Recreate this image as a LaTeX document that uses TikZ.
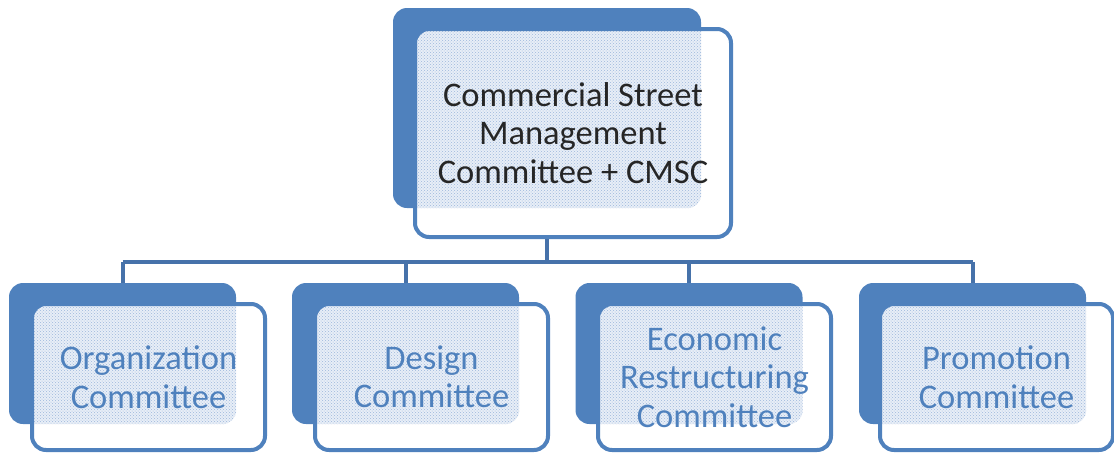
\documentclass[tikz,border=0pt]{standalone}
\usepackage{fontspec}
\setmainfont{Carlito}
\usetikzlibrary{patterns}
\definecolor{boxblue}{HTML}{4F81BD}
\definecolor{lineblue}{HTML}{4672AA}
\definecolor{dotblue}{HTML}{9DB8DC}
\definecolor{paleblue}{HTML}{E8EEF7}
\definecolor{textdark}{HTML}{262626}
\begin{document}
\begin{tikzpicture}[x=1pt, y=-1pt,
    backbox/.style={rectangle, rounded corners=14pt, fill=boxblue, inner sep=0pt},
    frontbox/.style={rectangle, rounded corners=14pt, draw=boxblue, line width=4pt,
        fill=white, align=center, inner sep=0pt, text=boxblue,
        font=\fontsize{34.5}{38.5}\selectfont,
        path picture={
            \fill[paleblue, rounded corners=14pt] (#1.north west) rectangle (#1.south east);
            \fill[pattern=crosshatch dots, pattern color=dotblue, rounded corners=14pt]
                (#1.north west) rectangle (#1.south east);
        }},
    link/.style={draw=lineblue, line width=4pt}]
    \useasboundingbox (0,0) rectangle (1114,453);

    % 顶部方框
    \node[backbox, minimum width=308pt, minimum height=200pt] (cmscb) at (547,108) {};
    \node[frontbox=cmscb, text=textdark, minimum width=316pt, minimum height=208pt] (cmsc) at (573,133)
        {Commercial Street\\Management\\Committee + CMSC};

    % 四个委员会
    \node[backbox, minimum width=227pt, minimum height=141pt] (orgb) at (122.5,353.5) {};
    \node[backbox, minimum width=227pt, minimum height=141pt] (desb) at (405.5,353.5) {};
    \node[backbox, minimum width=227pt, minimum height=141pt] (ecob) at (689,353.5) {};
    \node[backbox, minimum width=227pt, minimum height=141pt] (prob) at (972.5,353.5) {};

    \node[frontbox=orgb, minimum width=233pt, minimum height=146pt] (org) at (148.5,377) {Organization\\Committee};
    \node[frontbox=desb, minimum width=233pt, minimum height=146pt] (des) at (431.5,377) {Design\\Committee};
    \node[frontbox=ecob, minimum width=233pt, minimum height=146pt] (eco) at (714.5,377) {Economic\\Restructuring\\Committee};
    \node[frontbox=prob, minimum width=233pt, minimum height=146pt] (pro) at (996.5,377) {Promotion\\Committee};

    % 连线
    \coordinate (bus) at (547,262);
    \draw[link] (cmscb.south |- cmsc.south) -- (bus);
    \draw[link] (orgb.north |- bus) -- (prob.north |- bus);
    \draw[link] (orgb.north |- bus) -- (orgb.north);
    \draw[link] (desb.north |- bus) -- (desb.north);
    \draw[link] (ecob.north |- bus) -- (ecob.north);
    \draw[link] (prob.north |- bus) -- (prob.north);
\end{tikzpicture}
\end{document}
